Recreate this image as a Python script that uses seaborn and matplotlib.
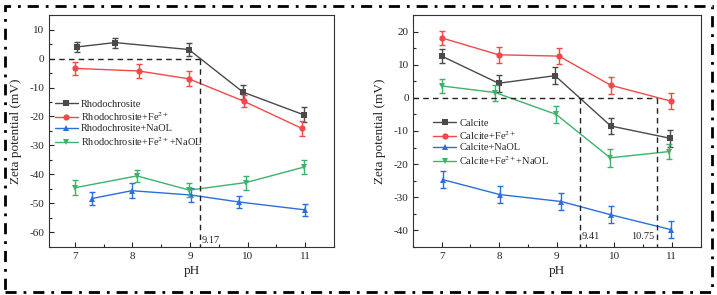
import matplotlib
matplotlib.use("Agg")
from matplotlib import pyplot as plt
from matplotlib.patches import Rectangle
from matplotlib.ticker import MultipleLocator
import pandas as pd
import seaborn as sns

sns.set_style("ticks")
plt.rcParams["font.family"] = ["Liberation Serif", "DejaVu Serif"]
plt.rcParams["mathtext.fontset"] = "stix"
plt.rcParams["axes.unicode_minus"] = False

# ---- rhodochrosite panel ----
rh_ph = [7.04, 7.70, 8.98, 9.92, 10.97]
rh_zeta = [4.0, 5.5, 3.1, -11.6, -19.4]
rh_err = [1.7, 1.7, 2.4, 2.4, 2.6]
rhfe_ph = [7.00, 8.11, 8.98, 9.93, 10.94]
rhfe_zeta = [-3.4, -4.3, -7.0, -14.7, -24.1]
rhfe_err = [2.2, 2.5, 2.6, 2.0, 2.5]
rhna_ph = [7.30, 7.99, 9.02, 9.85, 10.99]
rhna_zeta = [-48.3, -45.6, -47.1, -49.5, -52.2]
rhna_err = [2.3, 2.6, 2.4, 2.1, 2.1]
rhfena_ph = [7.00, 8.08, 8.99, 9.97, 10.97]
rhfena_zeta = [-44.6, -40.5, -45.4, -42.8, -37.5]
rhfena_err = [2.6, 2.1, 2.3, 2.4, 2.5]
rh_iep = [9.17]

# ---- calcite panel ----
ca_ph = [7.00, 7.99, 8.97, 9.94, 10.97]
ca_zeta = [12.6, 4.4, 6.7, -8.5, -12.2]
ca_err = [2.1, 2.5, 2.6, 2.5, 2.5]
cafe_ph = [7.00, 7.99, 9.04, 9.94, 10.99]
cafe_zeta = [18.1, 13.0, 12.6, 3.8, -1.0]
cafe_err = [2.0, 2.5, 2.5, 2.5, 2.5]
cana_ph = [7.02, 8.01, 9.08, 9.94, 10.99]
cana_zeta = [-24.7, -29.2, -31.3, -35.3, -39.8]
cana_err = [2.5, 2.5, 2.6, 2.6, 2.6]
cafena_ph = [7.00, 7.93, 8.99, 9.93, 10.96]
cafena_zeta = [3.6, 1.6, -5.0, -18.1, -16.2]
cafena_err = [2.0, 2.4, 2.5, 2.7, 2.4]
ca_iep = [9.41, 10.75]

colors = ["#4a4a4a", "#f44848", "#2a6fdc", "#3cb36a"]
markers = ["s", "o", "^", "v"]

fig = plt.figure(figsize=(7.17, 2.95), dpi=100)
ax1 = fig.add_axes([0.068, 0.163, 0.398, 0.786])
ax2 = fig.add_axes([0.576, 0.163, 0.401, 0.786])


def draw(ax, series):
    for (ph, z, e, lab), c, m in zip(series, colors, markers):
        df = pd.DataFrame({"pH": ph, "zeta": z})
        sns.lineplot(data=df, x="pH", y="zeta", ax=ax, color=c, marker=m,
                     markersize=4.5, markeredgewidth=0, linewidth=1,
                     label=lab, sort=False)
        ax.errorbar(ph, z, yerr=e, fmt="none", ecolor=c, elinewidth=1,
                    capsize=2.2, capthick=1)


draw(ax1, [(rh_ph, rh_zeta, rh_err, "Rhodochrosite"),
           (rhfe_ph, rhfe_zeta, rhfe_err, "Rhodochrosite+Fe$^{2+}$"),
           (rhna_ph, rhna_zeta, rhna_err, "Rhodochrosite+NaOL"),
           (rhfena_ph, rhfena_zeta, rhfena_err, "Rhodochrosite+Fe$^{2+}$+NaOL")])
draw(ax2, [(ca_ph, ca_zeta, ca_err, "Calcite"),
           (cafe_ph, cafe_zeta, cafe_err, "Calcite+Fe$^{2+}$"),
           (cana_ph, cana_zeta, cana_err, "Calcite+NaOL"),
           (cafena_ph, cafena_zeta, cafena_err, "Calcite+Fe$^{2+}$+NaOL")])

ax1.set_xlim(6.55, 11.5)
ax1.set_ylim(-65, 15)
ax2.set_xlim(6.5, 11.5)
ax2.set_ylim(-45, 25)

dash = dict(color="#222222", lw=1, ls=(0, (4, 3)))
# isoelectric points
ax1.plot([6.55, rh_iep[0]], [0, 0], **dash)
ax1.plot([rh_iep[0], rh_iep[0]], [0, -65], **dash)
ax1.text(rh_iep[0] + 0.03, -62.8, "9.17", fontsize=7.5, va="center")
ax2.plot([6.5, ca_iep[1]], [0, 0], **dash)
for v in ca_iep:
    ax2.plot([v, v], [0, -45], **dash)
ax2.text(ca_iep[0] + 0.03, -42, "9.41", fontsize=7.5, va="center")
ax2.text(ca_iep[1] - 0.06, -42, "10.75", fontsize=7.5, va="center", ha="right")

for ax in (ax1, ax2):
    ax.xaxis.set_major_locator(MultipleLocator(1))
    ax.xaxis.set_minor_locator(MultipleLocator(0.5))
    ax.yaxis.set_major_locator(MultipleLocator(10))
    ax.yaxis.set_minor_locator(MultipleLocator(5))
    ax.tick_params(which="both", direction="in", labelsize=8)
    ax.tick_params(axis="y", which="both", pad=3)
    ax.tick_params(which="major", length=3.5, width=0.8)
    ax.tick_params(which="minor", length=2, width=0.8)
    ax.set_xlabel("pH", fontsize=9.5, labelpad=3)
    ax.set_ylabel("Zeta potential (mV)", fontsize=9.5)
    ax.yaxis.set_label_coords(-0.095, 0.5)
    for s in ax.spines.values():
        s.set_linewidth(0.8)
        s.set_color("#333333")

leg_kw = dict(loc="center left", frameon=False, fontsize=7.5, handlelength=2.2,
              handletextpad=0.3, labelspacing=0.12, borderaxespad=0, borderpad=0)
ax1.legend(bbox_to_anchor=(0.021, 0.532), **leg_kw)
ax2.legend(bbox_to_anchor=(0.07, 0.45), **leg_kw)

# dash-dot frame around the whole figure
fig.patches.append(Rectangle((5 / 717, 3 / 295), 707 / 717, 286 / 295,
                             transform=fig.transFigure, fill=False,
                             edgecolor="black", lw=2, ls=(0, (4, 2.5, 1, 2.5))))

fig.savefig("out.png", dpi=100)
